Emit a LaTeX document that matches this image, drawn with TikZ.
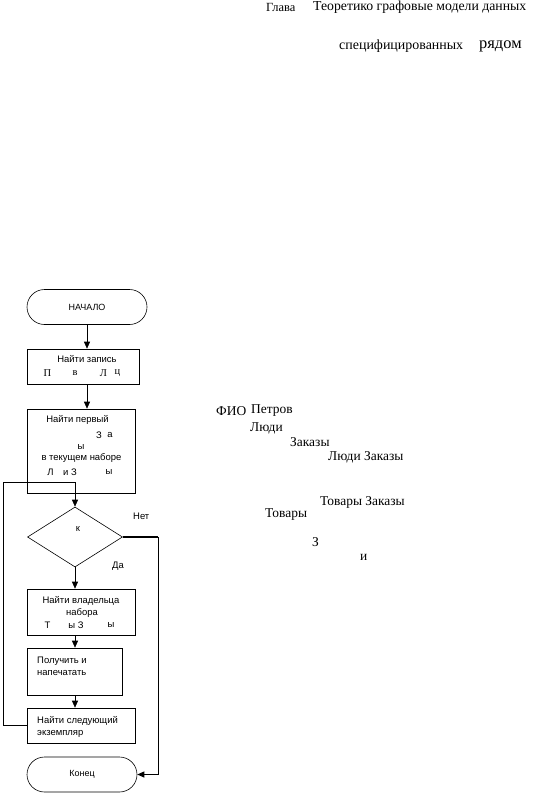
\documentclass[tikz,border=0pt]{standalone}
\usepackage{fontspec}
\setmainfont{Liberation Serif}
\setsansfont{Liberation Sans}
\usetikzlibrary{arrows.meta,shapes.geometric,shapes.misc}
\tikzset{
blok/.style={
draw,
line width=0.6pt,
inner sep=0pt
},
term/.style={
draw,
rounded rectangle,
line width=0.6pt,
minimum height=35bp,
inner sep=0pt,
font=\sffamily\fontsize{9}{10}\selectfont
},
cond/.style={
draw,
diamond,
line width=0.6pt,
minimum width=95bp,
minimum height=60bp,
inner sep=0pt
},
arrow/.style={
-{Triangle[length=7bp,width=6bp]},
line width=0.6pt
},
txt/.style={font=\sffamily\fontsize{9.5}{11}\selectfont,inner sep=0pt},
frag/.style={font=\fontsize{10.5}{12}\selectfont,inner sep=0pt},
note/.style={font=\fontsize{13.5}{15}\selectfont,inner sep=0pt,anchor=west}
}
\begin{document}
\begin{tikzpicture}[x=1bp,y=-1bp]
\useasboundingbox (0,0) rectangle (538,795);

% header lines
\node[font=\fontsize{12.5}{14}\selectfont,inner sep=0pt,anchor=west] (glava) at (266,7) {Глава};
\node[font=\fontsize{13.8}{15}\selectfont,inner sep=0pt,anchor=west] (title) at (313,7) {Теоретико графовые модели данных};
\node[font=\fontsize{14}{16}\selectfont,inner sep=0pt,anchor=west] (spec) at (339,46) {специфицированных};
\node[font=\fontsize{16.5}{18}\selectfont,inner sep=0pt,anchor=west] (ryad) at (479,46) {рядом};

% flowchart
\node[term,minimum width=120bp] (start) at (87,307) {НАЧАЛО};
\node[blok,minimum width=112bp,minimum height=35bp] (b1) at (83,366.5) {};
\node[blok,minimum width=108bp,minimum height=84bp] (b2) at (81,451) {};
\node[cond] (dec) at (75,537) {};
\node[blok,minimum width=108bp,minimum height=46bp] (b3) at (81,612) {};
\node[blok,minimum width=95bp,minimum height=47bp] (b4) at (74.5,671.5) {};
\node[blok,minimum width=108bp,minimum height=35bp] (b5) at (81,725.5) {};
\node[term,minimum width=110bp] (stop) at (82,774.5) {Конец};

% texts in the boxes
\node[txt] (b1a) at (87,359) {Найти запись};
\node[frag] (b1b) at (47.5,373) {П};
\node[frag] (b1c) at (75,373) {в};
\node[frag] (b1d) at (103.5,373) {Л};
\node[frag] (b1e) at (117.5,373) {ц};

\node[txt] (b2a) at (77.5,420) {Найти первый};
\node[txt] (b2b) at (99,435) {З};
\node[txt] (b2c) at (110,435) {а};
\node[txt] (b2d) at (81,447) {ы};
\node[txt] (b2e) at (81.5,458) {в текущем наборе};
\node[txt] (b2f) at (50.5,472) {Л};
\node[txt] (b2g) at (70,472) {и З};
\node[txt] (b2h) at (109,472) {ы};

\node[txt] (k) at (78,529) {к};

\node[txt] (b3a) at (81,601) {Найти владельца};
\node[txt] (b3b) at (82,613) {набора};
\node[txt] (b3c) at (47.5,625) {Т};
\node[txt] (b3d) at (76,625) {ы З};
\node[txt] (b3e) at (111,625) {ы};

\node[txt,anchor=west] (b4a) at (37,661) {Получить и};
\node[txt,anchor=west] (b4b) at (37,673) {напечатать};

\node[txt,anchor=west] (b5a) at (37,721) {Найти следующий};
\node[txt,anchor=west] (b5b) at (37,734) {экземпляр};

\node[txt,anchor=west] (net) at (133,516) {Нет};
\node[txt] (da) at (118,566) {Да};

% connectors
\draw[arrow] (start.south) -- (start.south |- b1.north);
\draw[arrow] (start.south |- b1.south) -- (start.south |- b2.north);
\draw[arrow] (dec.south) -- (dec.south |- b3.north);
\draw[arrow] (dec.south |- b3.south) -- (dec.south |- b4.north);
\draw[arrow] (dec.south |- b4.south) -- (dec.south |- b5.north);

\coordinate (loopB) at (3,725);
\coordinate (loopT) at (3,482);
\draw[arrow] (b5.west |- loopB) -- (loopB) -- (loopT) -- (loopT -| dec.north) -- (dec.north);

\coordinate (noX) at (158,537);
\draw[line width=1.6pt] (dec.east) -- (noX);
\draw[arrow,line width=1pt] (noX) -- (noX |- stop.east) -- (stop.east);

% text on the right
\node[note] (fio) at (216,411) {ФИО};
\node[note] (petrov) at (251,411) {Петров};
\node[note] (lyudi) at (250,428) {Люди};
\node[note] (zak) at (290,442) {Заказы};
\node[note] (lz) at (328,457) {Люди Заказы};
\node[note] (tz) at (320,502) {Товары Заказы};
\node[note] (tov) at (265,515) {Товары};
\node[note] (z) at (312,542) {З};
\node[note] (i) at (360,557) {и};
\end{tikzpicture}
\end{document}
